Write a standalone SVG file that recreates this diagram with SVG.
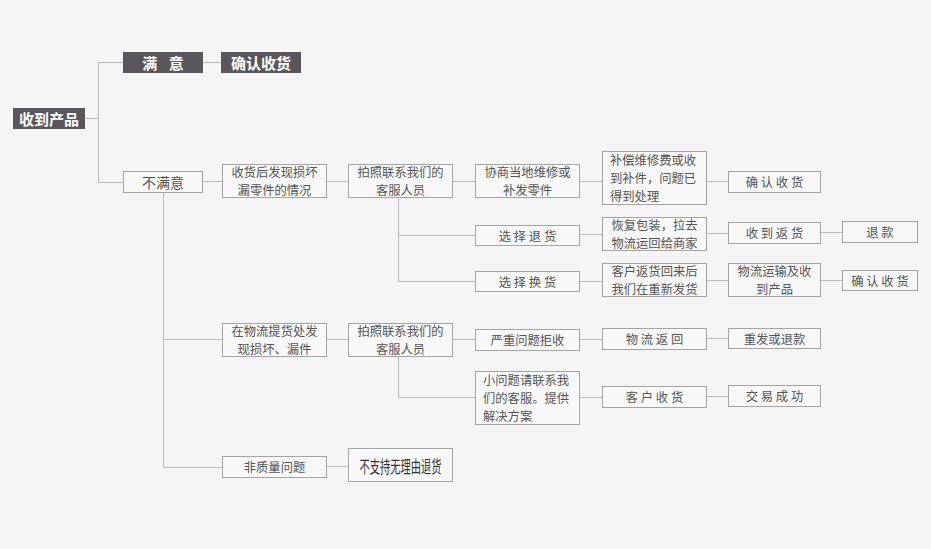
<svg xmlns="http://www.w3.org/2000/svg" width="931" height="549" viewBox="0 0 931 549">
<style>
.bg{fill:#f5f5f5}
.dk rect{fill:#59575b}
.dk text{fill:#ffffff;font-family:"Noto Sans CJK SC","Noto Sans",sans-serif;font-size:15px;font-weight:bold;text-anchor:middle;dominant-baseline:central}
.lt rect{fill:#f8f8f8;stroke:#a4a4a4;stroke-width:1}
.lt text{fill:#555555;font-family:"Noto Sans CJK SC","Noto Sans",sans-serif;font-size:12.3px;text-anchor:middle;dominant-baseline:central}
.lt text.l{text-anchor:start}
#conn path{stroke:#bcbcbc;stroke-width:1;fill:none}
</style>
<rect class="bg" x="0" y="0" width="931" height="549"/>
<g id="conn">
<path d="M85.5 118.5H98.5M98.5 62.5V182.5M98.5 62.5H123M98.5 182.5H123"/>
<path d="M203 62.5H221"/>
<path d="M203 181.5H223"/>
<path d="M163.5 192V467.5M163.5 339.5H223M163.5 467.5H223"/>
<path d="M327 181.5H348M453 181.5H475"/>
<path d="M398.5 197V281.5M398.5 235.5H475M398.5 281.5H475"/>
<path d="M580 181.5H602M707 181.5H728"/>
<path d="M580 234.5H602M707 233.5H728M821 232.5H842"/>
<path d="M580 281.5H602M707 280.5H728M821 280.5H842"/>
<path d="M327 339.5H348M453 339.5H475M580 339.5H602M707 338.5H728"/>
<path d="M398.5 356V397.5H475"/>
<path d="M580 397.5H602M707 396.5H728"/>
<path d="M327 466.5H348"/>
</g>
<g id="n-root" class="dk"><rect x="13" y="108" width="72" height="21"/><text x="49" y="118.5">收到产品</text></g>
<g id="n-satisfied" class="dk"><rect x="123" y="52" width="80" height="21"/><text x="165" y="62.5" letter-spacing="4">满 意</text></g>
<g id="n-confirm1" class="dk"><rect x="221" y="52" width="80" height="21"/><text x="261" y="62.5">确认收货</text></g>
<g id="n-unsatisfied" class="lt"><rect x="123.5" y="171.5" width="79" height="21"/><text x="163" y="182" style="font-size:14px">不满意</text></g>
<g id="n-damage1" class="lt"><rect x="222.5" y="164.5" width="104" height="33"/><text x="274.5" y="172">收货后发现损坏</text><text x="274.5" y="190">漏零件的情况</text></g>
<g id="n-contact1" class="lt"><rect x="348.5" y="164.5" width="104" height="33"/><text x="400.5" y="172">拍照联系我们的</text><text x="400.5" y="190">客服人员</text></g>
<g id="n-repair" class="lt"><rect x="475.5" y="164.5" width="104" height="33"/><text x="527.5" y="172">协商当地维修或</text><text x="527.5" y="190">补发零件</text></g>
<g id="n-compensate" class="lt"><rect x="602.5" y="151.5" width="104" height="53"/><text class="l" x="610" y="160">补偿维修费或收</text><text class="l" x="610" y="178">到补件，问题已</text><text class="l" x="610" y="196">得到处理</text></g>
<g id="n-confirm2" class="lt"><rect x="728.5" y="171.5" width="92" height="21"/><text x="774.5" y="182">确 认 收 货</text></g>
<g id="n-return" class="lt"><rect x="475.5" y="225.5" width="104" height="20"/><text x="527.5" y="235.5">选 择 退 货</text></g>
<g id="n-repack" class="lt"><rect x="602.5" y="217.5" width="104" height="33"/><text x="654.5" y="225">恢复包装，拉去</text><text x="654.5" y="243">物流运回给商家</text></g>
<g id="n-received" class="lt"><rect x="728.5" y="222.5" width="92" height="21"/><text x="774.5" y="233">收 到 返 货</text></g>
<g id="n-refund" class="lt"><rect x="842.5" y="221.5" width="75" height="21"/><text x="880" y="232">退 款</text></g>
<g id="n-exchange" class="lt"><rect x="475.5" y="271.5" width="104" height="20"/><text x="527.5" y="281.5">选 择 换 货</text></g>
<g id="n-resend" class="lt"><rect x="602.5" y="263.5" width="104" height="33"/><text x="654.5" y="271">客户返货回来后</text><text x="654.5" y="289">我们在重新发货</text></g>
<g id="n-shipping" class="lt"><rect x="728.5" y="263.5" width="92" height="33"/><text x="774.5" y="271">物流运输及收</text><text x="774.5" y="289">到产品</text></g>
<g id="n-confirm3" class="lt"><rect x="842.5" y="270.5" width="75" height="20"/><text x="880" y="280.5">确 认 收 货</text></g>
<g id="n-damage2" class="lt"><rect x="222.5" y="323.5" width="104" height="33"/><text x="274.5" y="331">在物流提货处发</text><text x="274.5" y="349">现损坏、漏件</text></g>
<g id="n-contact2" class="lt"><rect x="348.5" y="323.5" width="104" height="33"/><text x="400.5" y="331">拍照联系我们的</text><text x="400.5" y="349">客服人员</text></g>
<g id="n-reject" class="lt"><rect x="475.5" y="329.5" width="104" height="21"/><text x="527.5" y="340">严重问题拒收</text></g>
<g id="n-back" class="lt"><rect x="602.5" y="328.5" width="104" height="21"/><text x="654.5" y="339">物 流 返 回</text></g>
<g id="n-resend2" class="lt"><rect x="728.5" y="328.5" width="92" height="20"/><text x="774.5" y="338.5">重发或退款</text></g>
<g id="n-minor" class="lt"><rect x="475.5" y="371.5" width="104" height="53"/><text class="l" x="483" y="380">小问题请联系我</text><text class="l" x="483" y="398">们的客服。提供</text><text class="l" x="483" y="416">解决方案</text></g>
<g id="n-customer" class="lt"><rect x="602.5" y="386.5" width="104" height="21"/><text x="654.5" y="397">客 户 收 货</text></g>
<g id="n-success" class="lt"><rect x="728.5" y="385.5" width="92" height="21"/><text x="774.5" y="396">交 易 成 功</text></g>
<g id="n-nonquality" class="lt"><rect x="222.5" y="456.5" width="104" height="21"/><text x="274.5" y="467">非质量问题</text></g>
<g id="n-noreturn" class="lt"><rect x="348.5" y="448.5" width="104" height="33"/><text x="400.5" y="465" style="font-size:17px;fill:#333" textLength="82" lengthAdjust="spacingAndGlyphs">不支持无理由退货</text></g>
</svg>
